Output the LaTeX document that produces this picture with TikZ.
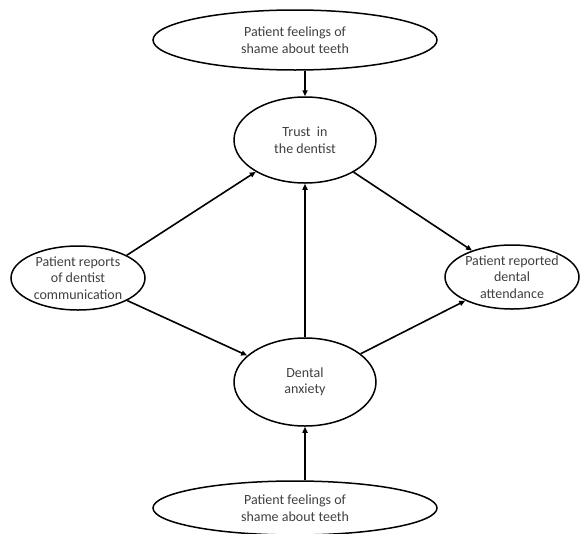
\documentclass[tikz,border=0pt]{standalone}
\usepackage{fontspec}
\setmainfont{Carlito}
\usetikzlibrary{shapes.geometric,arrows.meta}

\begin{document}
\begin{tikzpicture}[x=1pt,y=-1pt,
    factor/.style={draw,ellipse,line width=1.5pt,inner sep=0pt,align=center,
      font=\fontsize{14}{16.5}\selectfont,text=black!75},
    link/.style={line width=1.6pt,-{Triangle[length=6pt,width=5pt]}}]
  \useasboundingbox (0,0) rectangle (580,533);
  % factors
  \node[factor,minimum width=284,minimum height=60] (shametop) at (295,40) {Patient feelings of\\shame about teeth};
  \node[factor,minimum width=142,minimum height=86] (trust) at (305,140) {Trust\ \ in\\the dentist};
  \node[factor,minimum width=134,minimum height=64] (comm) at (78,278) {Patient reports\\of dentist\\communication};
  \node[factor,minimum width=134,minimum height=64] (attend) at (512,277) {Patient reported\\dental\\attendance};
  \node[factor,minimum width=142,minimum height=88] (anxiety) at (305,382) {Dental\\anxiety};
  \node[factor,minimum width=284,minimum height=54] (shamebot) at (295,508) {Patient feelings of\\shame about teeth};
  % paths
  \draw[link] (shametop.south -| trust.north) -- (trust.north);
  \draw[link] (comm.25) -- (trust);
  \draw[link] (trust) -- (attend);
  \draw[link] (comm) -- (anxiety);
  \draw[link] (anxiety) -- (trust);
  \draw[link] (anxiety) -- (attend);
  \draw[link] (shamebot.north -| anxiety.south) -- (anxiety.south);
\end{tikzpicture}
\end{document}
